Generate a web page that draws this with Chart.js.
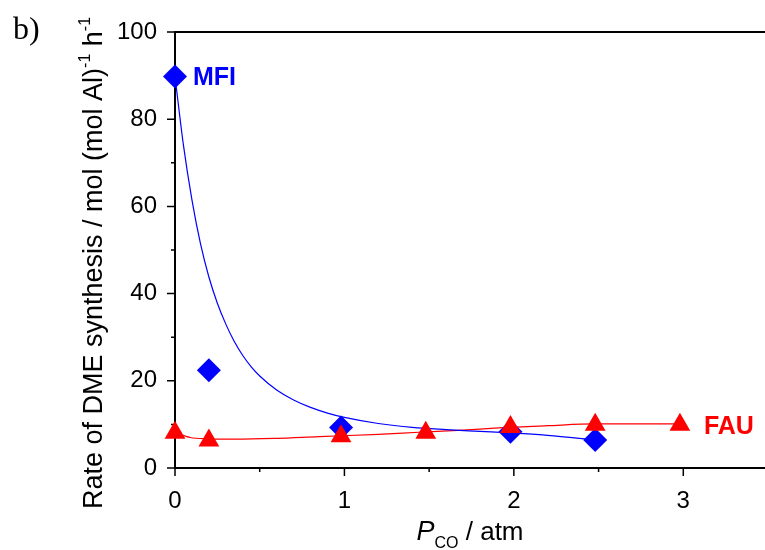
<!DOCTYPE html>
<html>
<head>
<meta charset="utf-8">
<script src="https://cdn.jsdelivr.net/npm/chart.js@4.4.1/dist/chart.umd.min.js"></script>
<style>
  html, body { margin: 0; padding: 0; background: #fff; overflow: hidden; }
  #wrap { width: 780px; height: 550px; }
</style>
</head>
<body>
<div id="wrap"><canvas id="c" width="780" height="550"></canvas></div>
<script>
// ---- data ----
const mfiX = [0, 0.2, 0.98, 1.98, 2.48];
const mfiY = [89.8, 22.4, 9.3, 8.3, 6.4];
const fauX = [0, 0.2, 0.98, 1.48, 1.98, 2.48, 2.98];
const fauY = [8.1, 6.3, 7.3, 8.1, 9.4, 9.9, 9.9];
// fitted curves
const mfiFitX = [0, 0.05, 0.1, 0.15, 0.2, 0.25, 0.3, 0.35, 0.4, 0.45, 0.5, 0.6, 0.7, 0.8, 0.9, 1.0, 1.2, 1.4, 1.6, 1.8, 2.0, 2.2, 2.48];
const mfiFitY = [89.8, 74.0, 61.5, 51.5, 43.8, 37.8, 33.0, 29.0, 25.8, 23.2, 21.1, 17.9, 15.6, 13.9, 12.6, 11.6, 10.2, 9.3, 8.8, 8.4, 8.0, 7.5, 6.4];
const fauFitX = [0, 0.09, 0.2, 0.36, 0.6, 0.85, 1.2, 1.44, 1.7, 1.91, 2.2, 2.48, 2.75, 2.98];
const fauFitY = [8.1, 7.0, 6.7, 6.6, 6.8, 7.2, 7.7, 8.2, 8.7, 9.2, 9.7, 10.1, 10.1, 10.1];
// axes
const xMajorTicks = [0, 1, 2, 3];
const xMinorTicks = [0.5, 1.5, 2.5];
const yMajorTicks = [0, 20, 40, 60, 80, 100];
const yMinorTicks = [10, 30, 50, 70, 90];
const xRange = [0, 3.5];
const yRange = [0, 100];
const seriesLabels = ['MFI', 'FAU'];
const panelLabel = 'b)';

const toPts = (xs, ys) => xs.map((x, i) => ({x: x, y: ys[i]}));
const SANS = '"Liberation Sans", Arial, Helvetica, sans-serif';
const BLUE = '#0000ff', RED = '#ff0000';

const frame = {
  id: 'frame',
  beforeDatasetsDraw(chart) {
    const ctx = chart.ctx, a = chart.chartArea;
    const xs = chart.scales.x, ys = chart.scales.y;
    ctx.save();
    ctx.strokeStyle = '#000';
    ctx.lineWidth = 2;
    ctx.beginPath();
    ctx.moveTo(a.left, a.top); ctx.lineTo(a.left, a.bottom);
    ctx.moveTo(a.left - 1, a.bottom); ctx.lineTo(a.right, a.bottom);
    ctx.moveTo(a.left - 1, a.top); ctx.lineTo(a.right, a.top);
    ctx.stroke();
    ctx.lineWidth = 1.5;
    ctx.beginPath();
    yMajorTicks.forEach(v => { const p = ys.getPixelForValue(v); ctx.moveTo(a.left, p); ctx.lineTo(a.left - 8, p); });
    yMinorTicks.forEach(v => { const p = ys.getPixelForValue(v); ctx.moveTo(a.left, p); ctx.lineTo(a.left - 4, p); });
    xMajorTicks.forEach(v => { const p = xs.getPixelForValue(v); ctx.moveTo(p, a.bottom); ctx.lineTo(p, a.bottom + 8); });
    xMinorTicks.forEach(v => { const p = xs.getPixelForValue(v); ctx.moveTo(p, a.bottom); ctx.lineTo(p, a.bottom + 4); });
    ctx.stroke();
    ctx.restore();
  }
};

const decor = {
  id: 'decor',
  afterDraw(chart) {
    const ctx = chart.ctx;
    const xs = chart.scales.x, ys = chart.scales.y;
    ctx.save();
    ctx.fillStyle = '#000';
    ctx.textBaseline = 'alphabetic';
    // y axis title (rotated) with superscripts
    const big = '27px ' + SANS, sup = '16px ' + SANS;
    const parts = [
      ['Rate of DME synthesis / mol (mol Al)', big, 0],
      ['-1', sup, -12],
      [' h', big, 0],
      ['-1', sup, -12]
    ];
    let total = 0;
    parts.forEach(p => { ctx.font = p[1]; p.push(ctx.measureText(p[0]).width); total += p[3]; });
    ctx.save();
    ctx.translate(102, 263);
    ctx.rotate(-Math.PI / 2);
    let cx = -total / 2;
    parts.forEach(p => { ctx.font = p[1]; ctx.textAlign = 'left'; ctx.fillText(p[0], cx, p[2]); cx += p[3]; });
    ctx.restore();

    // x axis title: P_CO / atm
    const xp = [
      ['P', 'italic 27px ' + SANS, 0],
      ['CO', '16px ' + SANS, 8],
      [' / atm', '26px ' + SANS, 0]
    ];
    let tw = 0;
    xp.forEach(p => { ctx.font = p[1]; p.push(ctx.measureText(p[0]).width); tw += p[3]; });
    let sx = 470 - tw / 2;
    xp.forEach(p => { ctx.font = p[1]; ctx.textAlign = 'left'; ctx.fillText(p[0], sx, 540 + p[2]); sx += p[3]; });

    // series labels
    ctx.font = 'bold 25px ' + SANS;
    ctx.fillStyle = BLUE;
    ctx.fillText(seriesLabels[0], xs.getPixelForValue(0) + 18, ys.getPixelForValue(mfiY[0]) + 9);
    ctx.fillStyle = RED;
    ctx.fillText(seriesLabels[1], xs.getPixelForValue(fauX[fauX.length - 1]) + 24, ys.getPixelForValue(fauY[fauY.length - 1]) + 9);

    // panel label
    ctx.fillStyle = '#000';
    ctx.font = '32px "Liberation Serif", "Times New Roman", serif';
    ctx.fillText(panelLabel, 13, 39);
    ctx.restore();
  }
};

new Chart(document.getElementById('c'), {
  type: 'scatter',
  data: {
    datasets: [
      { label: 'FAU', data: toPts(fauX, fauY), pointStyle: 'triangle', pointRadius: 12, pointHoverRadius: 12,
        backgroundColor: RED, borderColor: RED, borderWidth: 0, showLine: false, order: 0, clip: false },
      { label: 'MFI', data: toPts(mfiX, mfiY), pointStyle: 'rectRot', pointRadius: 12, pointHoverRadius: 12,
        backgroundColor: BLUE, borderColor: BLUE, borderWidth: 0, showLine: false, order: 1, clip: false },
      { label: 'MFI fit', data: toPts(mfiFitX, mfiFitY), showLine: true, pointRadius: 0, borderColor: BLUE,
        borderWidth: 1.2, cubicInterpolationMode: 'monotone', fill: false, order: 2 },
      { label: 'FAU fit', data: toPts(fauFitX, fauFitY), showLine: true, pointRadius: 0, borderColor: RED,
        borderWidth: 1.2, cubicInterpolationMode: 'monotone', fill: false, order: 3 }
    ]
  },
  options: {
    responsive: false,
    animation: false,
    events: [],
    layout: { padding: { left: 0, top: 32, right: 10, bottom: 0 } },
    plugins: { legend: { display: false }, tooltip: { enabled: false } },
    scales: {
      x: {
        type: 'linear', min: xRange[0], max: xRange[1],
        grid: { display: false }, border: { display: false },
        afterBuildTicks: s => { s.ticks = xMajorTicks.map(v => ({ value: v })); },
        afterFit: s => { s.height = 82; },
        ticks: { color: '#000', padding: 11, maxRotation: 0, font: { family: SANS, size: 24 },
                 callback: v => String(v) }
      },
      y: {
        type: 'linear', min: yRange[0], max: yRange[1],
        grid: { display: false }, border: { display: false },
        afterBuildTicks: s => { s.ticks = yMajorTicks.map(v => ({ value: v })); },
        afterFit: s => { s.width = 175; },
        ticks: { color: '#000', padding: 10, font: { family: SANS, size: 24 }, callback: v => String(v) }
      }
    }
  },
  plugins: [frame, decor]
});
</script>
</body>
</html>
